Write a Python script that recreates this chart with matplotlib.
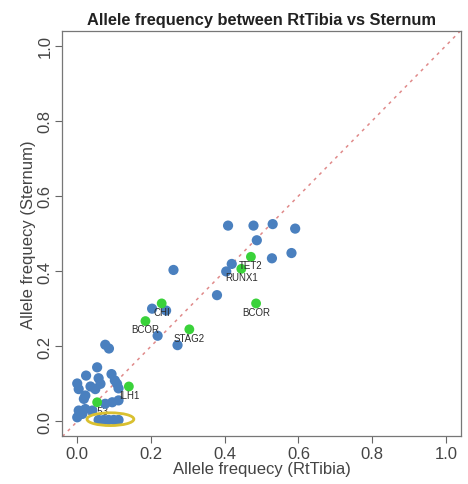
import matplotlib
matplotlib.use("Agg")
import matplotlib.pyplot as plt
from matplotlib.patches import Ellipse

plt.rcParams['font.family'] = ['Liberation Sans', 'DejaVu Sans']

# Blue points (RtTibia, Sternum)
blue_x = [0.409, 0.478, 0.530, 0.591, 0.487, 0.581, 0.528, 0.419, 0.404, 0.379,
          0.261, 0.203, 0.241, 0.218, 0.272,
          0.076, 0.086, 0.054, 0.024, 0.058, 0.093, 0.102, 0.000, 0.004, 0.036,
          0.049, 0.063, 0.108, 0.112, 0.022, 0.018, 0.076, 0.095, 0.112, 0.004,
          0.022, 0.041, 0.000, 0.014,
          0.058, 0.072, 0.085, 0.099, 0.112]
blue_y = [0.521, 0.521, 0.525, 0.513, 0.482, 0.448, 0.434, 0.419, 0.399, 0.336,
          0.403, 0.300, 0.295, 0.228, 0.203,
          0.204, 0.194, 0.144, 0.122, 0.115, 0.126, 0.109, 0.101, 0.086, 0.093,
          0.086, 0.100, 0.100, 0.088, 0.069, 0.060, 0.047, 0.051, 0.056, 0.029,
          0.033, 0.029, 0.011, 0.020,
          0.004, 0.004, 0.004, 0.004, 0.004]

# Labelled (green) genes
genes = ['TET2', 'RUNX1', 'BCOR', 'CHI', 'BCOR', 'STAG2', 'ILH1', 'TP53']
green_x = [0.471, 0.445, 0.485, 0.229, 0.185, 0.304, 0.140, 0.054]
green_y = [0.438, 0.406, 0.314, 0.314, 0.267, 0.245, 0.093, 0.051]

ticks = [0.0, 0.2, 0.4, 0.6, 0.8, 1.0]
tick_labels = ['0.0', '0.2', '0.4', '0.6', '0.8', '1.0']

fig = plt.figure(figsize=(4.68, 4.85), dpi=100)
ax = fig.add_axes([0.1335, 0.098, 0.851, 0.837])

ax.plot([-0.04, 1.04], [-0.04, 1.04], linestyle=(0, (2, 3)), color='#e08a8a',
        linewidth=1.1, zorder=1)

ax.scatter(green_x, green_y, s=50, color='#3ad23a', edgecolors='none', zorder=3)
for g, x, y in zip(genes, green_x, green_y):
    ax.annotate(g, (x, y), xytext=(0, -6), textcoords='offset points',
                ha='center', va='center', fontsize=7, color='#2a2a2a',
                zorder=2 if g == 'TP53' else 5)

ax.scatter(blue_x, blue_y, s=54, color='#4a80bf', edgecolors='none', zorder=2.5)

ell = Ellipse((0.090, 0.006), 0.127, 0.034, fill=False, edgecolor='#d9c030',
              linewidth=2.0, zorder=4)
ax.add_patch(ell)

ax.set_xlim(-0.04, 1.04)
ax.set_ylim(-0.04, 1.04)
ax.set_xticks(ticks)
ax.set_xticklabels(tick_labels)
ax.set_yticks(ticks)
ax.set_yticklabels(tick_labels, rotation=90, va='center')
ax.tick_params(direction='out', length=5, width=0.8, colors='#666666',
               labelcolor='#444444', labelsize=12, pad=2)
for sp in ax.spines.values():
    sp.set_color('#777777')
    sp.set_linewidth(0.9)

ax.set_xlabel('Allele frequecy (RtTibia)', fontsize=12, color='#444444', labelpad=0)
ax.set_ylabel('Allele frequecy (Sternum)', fontsize=12, color='#444444', labelpad=1.5)
ax.set_title('Allele frequency between RtTibia vs Sternum', fontsize=11.8,
             fontweight='bold', color='#222222', pad=5)

fig.savefig('out.png', dpi=100)
